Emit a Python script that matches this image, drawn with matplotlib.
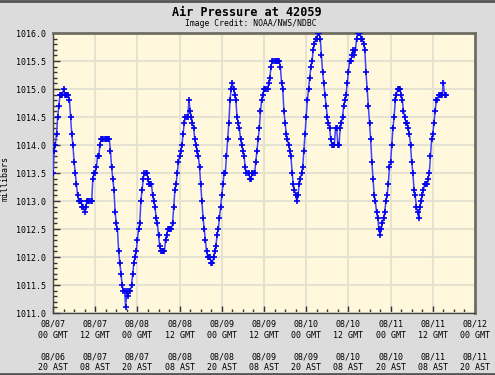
import numpy as np
import matplotlib
matplotlib.use("Agg")
import matplotlib.pyplot as plt
from matplotlib.lines import Line2D
from matplotlib.ticker import MultipleLocator

title = "Air Pressure at 42059"
subtitle = "Image Credit: NOAA/NWS/NDBC"
ylabel = "millibars"

# sample interval: 20 minutes, starting 08/07 00 GMT
step_minutes = 20
pressure = [
    1013.5, 1013.9, 1014.0, 1014.2, 1014.5, 1014.7,
    1014.9, 1014.9, 1014.9, 1015.0, 1014.9, 1014.9,
    1014.9, 1014.9, 1014.8, 1014.5, 1014.2, 1014.0,
    1013.7, 1013.5, 1013.3, 1013.1, 1013.0, 1013.0,
    1013.0, 1012.9, 1012.9, 1012.8, 1012.9, 1013.0,
    1013.0, 1013.0, 1013.0, 1013.0, 1013.4, 1013.5,
    1013.5, 1013.6, 1013.8, 1013.8, 1014.0, 1014.1,
    1014.1, 1014.1, 1014.1, 1014.1, 1014.1, 1014.1,
    1014.1, 1013.9, 1013.6, 1013.4, 1013.2, 1012.8,
    1012.6, 1012.5, 1012.1, 1011.9, 1011.7, 1011.5,
    1011.4, 1011.4, 1011.1, 1011.4, 1011.3, 1011.4,
    1011.4, 1011.5, 1011.7, 1011.9, 1012.0, 1012.1,
    1012.3, 1012.5, 1012.6, 1013.0, 1013.2, 1013.4,
    1013.5, 1013.5, 1013.5, 1013.4, 1013.3, 1013.3,
    1013.3, 1013.1, 1013.0, 1012.9, 1012.7, 1012.6,
    1012.4, 1012.2, 1012.1, 1012.1, 1012.1, 1012.1,
    1012.3, 1012.4, 1012.5, 1012.5, 1012.5, 1012.5,
    1012.6, 1012.9, 1013.2, 1013.3, 1013.5, 1013.7,
    1013.8, 1013.9, 1014.0, 1014.2, 1014.4, 1014.5,
    1014.5, 1014.5, 1014.8, 1014.6, 1014.5, 1014.4,
    1014.3, 1014.1, 1014.0, 1013.9, 1013.8, 1013.6,
    1013.3, 1013.0, 1012.7, 1012.5, 1012.3, 1012.1,
    1012.0, 1012.0, 1012.0, 1011.9, 1011.9, 1012.0,
    1012.1, 1012.2, 1012.4, 1012.5, 1012.7, 1012.9,
    1013.1, 1013.3, 1013.5, 1013.5, 1013.8, 1014.1,
    1014.4, 1014.8, 1015.0, 1015.1, 1015.0, 1014.9,
    1014.8, 1014.5, 1014.4, 1014.3, 1014.1, 1014.0,
    1013.9, 1013.8, 1013.6, 1013.5, 1013.5, 1013.5,
    1013.4, 1013.4, 1013.5, 1013.5, 1013.5, 1013.7,
    1013.9, 1014.1, 1014.3, 1014.6, 1014.8, 1014.9,
    1015.0, 1015.0, 1015.0, 1015.0, 1015.1, 1015.2,
    1015.4, 1015.5, 1015.5, 1015.5, 1015.5, 1015.5,
    1015.5, 1015.5, 1015.4, 1015.1, 1015.0, 1014.6,
    1014.4, 1014.2, 1014.1, 1014.0, 1013.9, 1013.8,
    1013.5, 1013.3, 1013.2, 1013.1, 1013.0, 1013.1,
    1013.3, 1013.4, 1013.5, 1013.6, 1013.9, 1014.2,
    1014.5, 1014.8, 1015.0, 1015.2, 1015.4, 1015.5,
    1015.7, 1015.8, 1015.9, 1015.9, 1016.0, 1016.0,
    1015.9, 1015.6, 1015.3, 1015.1, 1014.9, 1014.7,
    1014.5, 1014.4, 1014.3, 1014.1, 1014.0, 1014.0,
    1014.0, 1014.3, 1014.3, 1014.0, 1014.0, 1014.3,
    1014.4, 1014.5, 1014.7, 1014.8, 1014.9, 1015.1,
    1015.3, 1015.5, 1015.5, 1015.6, 1015.7, 1015.6,
    1015.7, 1015.9, 1016.0, 1016.0, 1016.0, 1015.9,
    1015.9, 1015.8, 1015.7, 1015.3, 1015.0, 1014.7,
    1014.4, 1014.1, 1013.7, 1013.4, 1013.1, 1013.0,
    1012.8, 1012.7, 1012.5, 1012.4, 1012.5, 1012.6,
    1012.7, 1012.8, 1013.0, 1013.1, 1013.3, 1013.6,
    1013.7, 1014.0, 1014.3, 1014.5, 1014.8, 1014.9,
    1015.0, 1015.0, 1015.0, 1014.9, 1014.8, 1014.6,
    1014.5, 1014.4, 1014.4, 1014.3, 1014.2, 1014.0,
    1013.7, 1013.5, 1013.2, 1013.1, 1012.9, 1012.8,
    1012.7, 1012.9, 1013.0, 1013.1, 1013.2, 1013.3,
    1013.3, 1013.3, 1013.4, 1013.5, 1013.8, 1014.1,
    1014.2, 1014.4, 1014.6, 1014.8, 1014.8, 1014.9,
    1014.9, 1014.9, 1014.9, 1015.1, 1014.9, 1014.9,
]

tick_hours = [0, 12, 24, 36, 48, 60, 72, 84, 96, 108, 120]
gmt_labels = ["08/07\n00 GMT", "08/07\n12 GMT", "08/08\n00 GMT", "08/08\n12 GMT",
              "08/09\n00 GMT", "08/09\n12 GMT", "08/10\n00 GMT", "08/10\n12 GMT",
              "08/11\n00 GMT", "08/11\n12 GMT", "08/12\n00 GMT"]
ast_labels = ["08/06\n20 AST", "08/07\n08 AST", "08/07\n20 AST", "08/08\n08 AST",
              "08/08\n20 AST", "08/09\n08 AST", "08/09\n20 AST", "08/10\n08 AST",
              "08/10\n20 AST", "08/11\n08 AST", "08/11\n20 AST"]

hours = np.arange(len(pressure)) * step_minutes / 60.0

mono = "DejaVu Sans Mono"
fig = plt.figure(figsize=(4.95, 3.75), dpi=100)
fig.patch.set_facecolor("#dcdcdc")
ax = fig.add_axes([53/495, 1-313/375, 422/495, 280/375])
ax.set_facecolor("#fff8dc")

ax.plot(hours, pressure, color="#4040ff", lw=1.1, marker="+", ms=4.5,
        mew=1.2, mec="#0000f0", zorder=3)

ax.set_xlim(0, 120)
ax.set_ylim(1011.0, 1016.0)
ax.yaxis.set_major_locator(MultipleLocator(0.5))
ax.yaxis.set_minor_locator(MultipleLocator(0.1))
ax.xaxis.set_minor_locator(MultipleLocator(3))
ax.set_xticks(tick_hours)
ax.set_xticklabels([g + "\n\n" + a for g, a in zip(gmt_labels, ast_labels)],
                   fontfamily=mono, fontsize=6, linespacing=1.25)
ax.set_yticks(np.arange(1011.0, 1016.01, 0.5))
ax.set_yticklabels(["%.1f" % v for v in np.arange(1011.0, 1016.01, 0.5)],
                   fontfamily=mono, fontsize=6)
ax.grid(True, which="major", color="#e6e2d2", lw=1.5, zorder=0)
ax.tick_params(which="major", direction="in", length=5, width=1, color="#333333",
               pad=5, top=False, right=False)
ax.tick_params(which="minor", direction="in", length=3, width=1, color="#333333",
               top=False, right=False)
for side in ["left", "bottom"]:
    ax.spines[side].set_color("#444444")
    ax.spines[side].set_linewidth(1)
for side in ["top", "right"]:
    ax.spines[side].set_color("#6e6e62")
    ax.spines[side].set_linewidth(2)

ax.set_ylabel(ylabel, fontfamily=mono, fontsize=6)
ax.yaxis.set_label_coords(-0.104, 0.48)

fig.text(0.499, 0.966, title, ha="center", va="center", fontfamily=mono,
         fontsize=8.5, fontweight="bold")
fig.text(0.506, 0.936, subtitle, ha="center", va="center", fontfamily=mono,
         fontsize=5.8)

fig.add_artist(Line2D([0, 1], [0.997, 0.997], color="#555555", lw=2, transform=fig.transFigure))
fig.add_artist(Line2D([0, 1], [0.003, 0.003], color="#555555", lw=2, transform=fig.transFigure))

fig.savefig("out.png", dpi=100, facecolor=fig.get_facecolor())
